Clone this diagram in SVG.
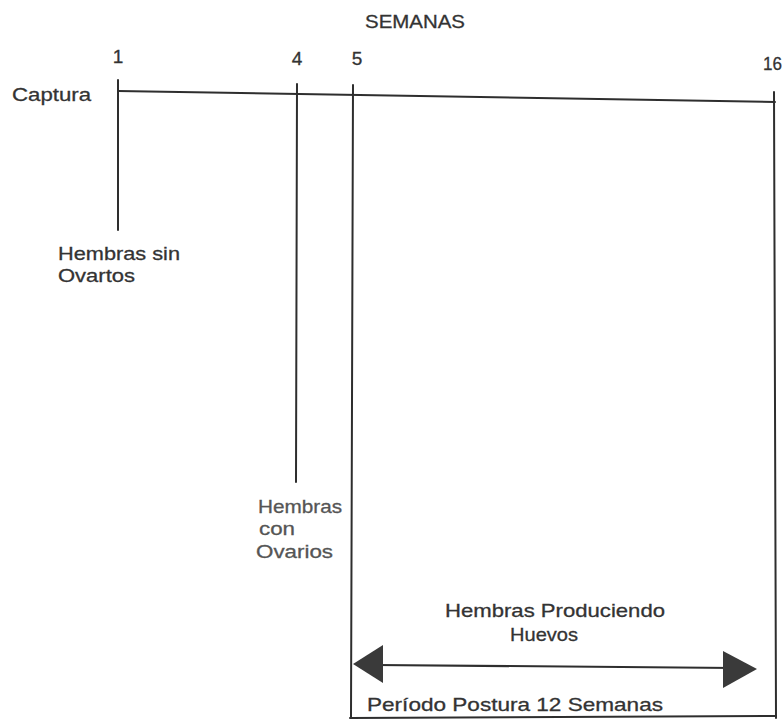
<svg xmlns="http://www.w3.org/2000/svg" width="783" height="726" viewBox="0 0 783 726">
<style>
  .ln{stroke:#2e2e2e;stroke-width:2;fill:none;stroke-linecap:round}
  .t{font-family:"Liberation Sans","DejaVu Sans",sans-serif;font-size:19px;fill:#333;stroke:#333;stroke-width:0.3}
  .lt{fill:#555;stroke:#555}
  .head{fill:#3a3a3a}
</style>
<rect width="783" height="726" fill="#fff"/>
<g id="connectors">
  <line class="ln" x1="118" y1="91" x2="775" y2="102"/>
  <line class="ln" x1="118" y1="80" x2="118" y2="230"/>
  <line class="ln" x1="297" y1="84" x2="296" y2="482"/>
  <line class="ln" x1="353" y1="85" x2="351" y2="718"/>
  <line class="ln" x1="774" y1="92" x2="776" y2="718"/>
  <line class="ln" x1="350" y1="718" x2="776" y2="716"/>
  <line class="ln" x1="375" y1="665" x2="735" y2="668"/>
  <polygon class="head" points="353,664 383,645 383,683"/>
  <polygon class="head" points="757,669 723,651 723,688"/>
</g>
<g id="title"><text class="t" x="365" y="28" textLength="100" lengthAdjust="spacingAndGlyphs">SEMANAS</text></g>
<g id="ticks">
  <text class="t" x="118" y="63" text-anchor="middle">1</text>
  <text class="t" x="297" y="65" text-anchor="middle">4</text>
  <text class="t" x="357" y="65" text-anchor="middle">5</text>
  <text class="t" x="763" y="70" textLength="19" lengthAdjust="spacingAndGlyphs">16</text>
</g>
<g id="captura"><text class="t" x="12" y="101" textLength="79" lengthAdjust="spacingAndGlyphs">Captura</text></g>
<g id="sin-ovarios">
  <text class="t" x="58" y="260" textLength="122" lengthAdjust="spacingAndGlyphs">Hembras sin</text>
  <text class="t" x="58" y="282" textLength="77" lengthAdjust="spacingAndGlyphs">Ovartos</text>
</g>
<g id="con-ovarios">
  <text class="t lt" x="258" y="513" textLength="84" lengthAdjust="spacingAndGlyphs">Hembras</text>
  <text class="t lt" x="259" y="535" textLength="36" lengthAdjust="spacingAndGlyphs">con</text>
  <text class="t lt" x="256" y="558" textLength="77" lengthAdjust="spacingAndGlyphs">Ovarios</text>
</g>
<g id="produciendo">
  <text class="t" x="445" y="617" textLength="220" lengthAdjust="spacingAndGlyphs">Hembras Produciendo</text>
  <text class="t" x="510" y="641" textLength="68" lengthAdjust="spacingAndGlyphs">Huevos</text>
</g>
<g id="periodo"><text class="t" x="367" y="711" textLength="296" lengthAdjust="spacingAndGlyphs">Período Postura 12 Semanas</text></g>
</svg>
